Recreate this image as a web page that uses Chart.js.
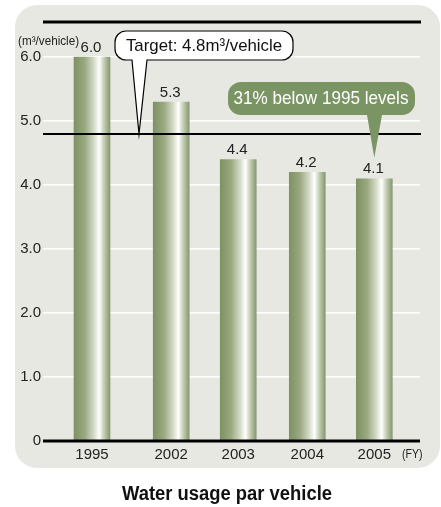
<!DOCTYPE html>
<html>
<head>
<meta charset="utf-8">
<title>Water usage par vehicle</title>
<script src="https://cdn.jsdelivr.net/npm/chart.js@4/dist/chart.umd.min.js"></script>
<style>
  html, body { margin: 0; padding: 0; background: #fff; }
  #wrap { width: 441px; height: 507px; }
</style>
</head>
<body>
<div id="wrap"><canvas id="water-chart" width="441" height="507"></canvas></div>
<script>
// fiscal years and water usage (m3 per vehicle)
const years = ["1995", "2002", "2003", "2004", "2005"];
const usage = [6.0, 5.3, 4.4, 4.2, 4.1];
// 1995 sits a little further away from the later years
const slots = [0, 1.17, 2.16, 3.18, 4.17];
const yTicks = [0, 1, 2, 3, 4, 5, 6];
const targetValue = 4.8;
const targetText = "Target: 4.8m\u00b3/vehicle";
const noteText = "31% below 1995 levels";
const unitText = "(m\u00b3/vehicle)";
const fyText = "(FY)";
const titleText = "Water usage par vehicle";

const SANS = "'Liberation Sans', Arial, sans-serif";
const GREEN = "#7b9464";

function barFill(ctx) {
  const chart = ctx.chart;
  const xs = chart.scales.x;
  if (!xs || ctx.dataIndex === undefined) return GREEN;
  const cx = xs.getPixelForValue(slots[ctx.dataIndex]);
  if (!isFinite(cx)) return GREEN;
  const g = chart.ctx.createLinearGradient(cx - 18, 0, cx + 18, 0);
  g.addColorStop(0, "#7e9262");
  g.addColorStop(0.3, "#9aa981");
  g.addColorStop(0.55, "#d3dac6");
  g.addColorStop(0.7, "#ffffff");
  g.addColorStop(0.82, "#c9d2b9");
  g.addColorStop(1, "#869870");
  return g;
}

function roundRect(c, x, y, w, h, r) {
  c.beginPath();
  c.moveTo(x + r, y);
  c.arcTo(x + w, y, x + w, y + h, r);
  c.arcTo(x + w, y + h, x, y + h, r);
  c.arcTo(x, y + h, x, y, r);
  c.arcTo(x, y, x + w, y, r);
  c.closePath();
}

// rounded box with a pointer hanging from its bottom edge
function callout(c, box, base, tip) {
  const { x, y, w, h, r } = box;
  c.beginPath();
  c.moveTo(x + r, y);
  c.arcTo(x + w, y, x + w, y + h, r);
  c.arcTo(x + w, y + h, x, y + h, r);
  c.lineTo(base[1], y + h);
  c.lineTo(tip.x, tip.y);
  c.lineTo(base[0], y + h);
  c.arcTo(x, y + h, x, y, r);
  c.arcTo(x, y, x + w, y, r);
  c.closePath();
}

// squeeze text horizontally (no narrow face installed)
function narrowText(c, text, x, y, sx) {
  c.save();
  c.translate(x, y);
  c.scale(sx, 1);
  c.fillText(text, 0, 0);
  c.restore();
}

const panelPlugin = {
  id: "panel",
  beforeDraw(chart) {
    const c = chart.ctx;
    c.save();
    c.fillStyle = "#e8e8e3";
    roundRect(c, 15, 5, 425, 463, 22);
    c.fill();
    c.restore();
  }
};

const overlayPlugin = {
  id: "overlay",
  afterDatasetsDraw(chart) {
    const c = chart.ctx;
    const area = chart.chartArea;
    const ys = chart.scales.y;
    const bars = chart.getDatasetMeta(0).data;
    c.save();

    // frame lines and target line
    c.strokeStyle = "#000";
    c.lineWidth = 3;
    c.beginPath();
    c.moveTo(area.left, area.top);
    c.lineTo(area.right + 1, area.top);
    c.moveTo(area.left, ys.getPixelForValue(0));
    c.lineTo(area.right, ys.getPixelForValue(0));
    c.stroke();
    c.lineWidth = 2;
    const ty = ys.getPixelForValue(targetValue);
    c.beginPath();
    c.moveTo(area.left, ty);
    c.lineTo(area.right + 1, ty);
    c.stroke();

    // value labels
    c.fillStyle = "#222";
    c.font = "15px " + SANS;
    c.textAlign = "center";
    c.textBaseline = "bottom";
    bars.forEach((bar, i) => {
      c.fillText(usage[i].toFixed(1), bar.x - 1, bar.y - 2);
    });

    // target callout
    callout(c, { x: 115, y: 31, w: 178, h: 29, r: 11 }, [132, 147], { x: 139, y: ty });
    c.fillStyle = "#fff";
    c.fill();
    c.strokeStyle = "#000";
    c.lineWidth = 1.2;
    c.stroke();
    c.fillStyle = "#111";
    c.font = "17px " + SANS;
    c.textBaseline = "middle";
    narrowText(c, targetText, 204, 46, 0.99);

    // reduction note pointing at the last bar
    const last = bars[bars.length - 1];
    callout(c, { x: 228, y: 82, w: 187, h: 33, r: 13 }, [367, 382], { x: last.x, y: last.y - 21 });
    c.fillStyle = GREEN;
    c.fill();
    c.fillStyle = "#fff";
    c.font = "19px " + SANS;
    narrowText(c, noteText, 321, 99, 0.9);

    // unit, FY marker and title
    c.fillStyle = "#222";
    c.font = "13px " + SANS;
    c.textAlign = "left";
    narrowText(c, unitText, 18, 41, 0.9);
    c.font = "12px " + SANS;
    narrowText(c, fyText, 402, 455, 0.88);
    c.font = "bold 20px " + SANS;
    c.textAlign = "center";
    c.fillStyle = "#111";
    narrowText(c, titleText, 227, 494, 0.92);

    c.restore();
  }
};

new Chart(document.getElementById("water-chart"), {
  type: "bar",
  data: {
    datasets: [{
      data: years.map((y, i) => ({ x: slots[i], y: usage[i] })),
      backgroundColor: barFill,
      borderWidth: 0,
      barThickness: 36
    }]
  },
  options: {
    responsive: false,
    animation: false,
    devicePixelRatio: 1,
    layout: { padding: { top: 22, right: 21, bottom: 36, left: 0 } },
    plugins: {
      legend: { display: false },
      tooltip: { enabled: false }
    },
    scales: {
      x: {
        type: "linear",
        offset: false,
        min: -0.724,
        max: 4.845,
        afterBuildTicks(axis) { axis.ticks = slots.map(v => ({ value: v })); },
        afterFit(axis) { axis.height = 30; },
        grid: { display: false, drawTicks: false },
        border: { display: false },
        ticks: {
          autoSkip: false,
          maxRotation: 0,
          padding: 5,
          color: "#222",
          font: { family: SANS, size: 15 },
          callback: (v, i) => years[i]
        }
      },
      y: {
        min: 0,
        max: 6.55,
        afterBuildTicks(axis) { axis.ticks = yTicks.map(v => ({ value: v })); },
        afterFit(axis) { axis.width = 43; },
        grid: { color: "#ffffff", lineWidth: 1.5, drawTicks: false },
        border: { display: false },
        ticks: {
          padding: 2,
          color: "#222",
          font: { family: SANS, size: 15 },
          callback: v => (v === 0 ? "0" : v.toFixed(1))
        }
      }
    }
  },
  plugins: [panelPlugin, overlayPlugin]
});
</script>
</body>
</html>
